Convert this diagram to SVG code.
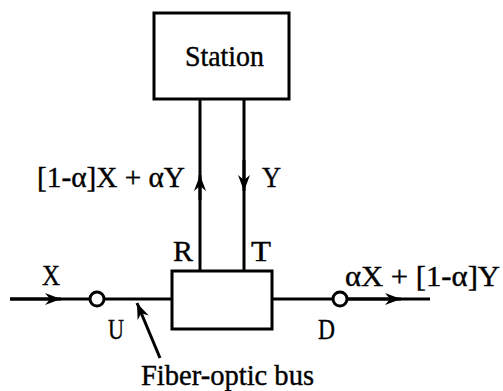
<svg xmlns="http://www.w3.org/2000/svg" width="503" height="391" viewBox="0 0 503 391">
<defs>
<style>
.ln{stroke:#000;stroke-width:3;fill:none}
.bx{stroke:#000;stroke-width:3;fill:#fff}
.t{font-family:"Liberation Serif","Times New Roman",serif;font-size:30px;fill:#000;stroke:#000;stroke-width:0.4}
</style>
<marker id="ah" viewBox="-17 -7 19 14" markerWidth="19" markerHeight="14" refX="0" refY="0" orient="auto" markerUnits="userSpaceOnUse">
<path d="M0,0 L-16,-6 L-11,0 L-16,6 Z" fill="#000"/>
</marker>
</defs>
<rect width="503" height="391" fill="#fff"/>
<g id="connectors">
<line class="ln" x1="200" y1="99" x2="200" y2="271"/>
<line class="ln" x1="200" y1="200" x2="200" y2="175" marker-end="url(#ah)"/>
<line class="ln" x1="244" y1="99" x2="244" y2="271"/>
<line class="ln" x1="244" y1="160" x2="244" y2="191" marker-end="url(#ah)"/>
<line class="ln" x1="10" y1="299" x2="90" y2="299"/>
<line class="ln" x1="10" y1="299" x2="61" y2="299" marker-end="url(#ah)"/>
<line class="ln" x1="104" y1="299" x2="172" y2="299"/>
<line class="ln" x1="272" y1="299" x2="333" y2="299"/>
<line class="ln" x1="347" y1="299" x2="430" y2="299"/>
<line class="ln" x1="347" y1="299" x2="401" y2="299" marker-end="url(#ah)"/>
<line class="ln" x1="160" y1="358" x2="137" y2="303" marker-end="url(#ah)"/>
</g>
<g id="station">
<rect class="bx" x="154" y="13" width="135" height="86"/>
<text class="t" x="185" y="66" textLength="79" lengthAdjust="spacingAndGlyphs">Station</text>
</g>
<g id="coupler">
<rect class="bx" x="172" y="271" width="100" height="58"/>
</g>
<g id="port-U">
<circle class="bx" cx="97" cy="299" r="7"/>
</g>
<g id="port-D">
<circle class="bx" cx="340" cy="299" r="7"/>
</g>
<g id="labels">
<text class="t" x="37" y="187" textLength="148" lengthAdjust="spacingAndGlyphs">[1-α]X + αY</text>
<text class="t" x="262" y="187" textLength="19" lengthAdjust="spacingAndGlyphs">Y</text>
<text class="t" x="173" y="261" textLength="20" lengthAdjust="spacingAndGlyphs">R</text>
<text class="t" x="251" y="261" textLength="20" lengthAdjust="spacingAndGlyphs">T</text>
<text class="t" x="42" y="285" textLength="18" lengthAdjust="spacingAndGlyphs">X</text>
<text class="t" x="345" y="286" textLength="155" lengthAdjust="spacingAndGlyphs">αX + [1-α]Y</text>
<text class="t" x="108" y="339" textLength="16" lengthAdjust="spacingAndGlyphs">U</text>
<text class="t" x="318" y="339" textLength="17" lengthAdjust="spacingAndGlyphs">D</text>
<text class="t" x="141" y="385" textLength="173" lengthAdjust="spacingAndGlyphs">Fiber-optic bus</text>
</g>
</svg>
